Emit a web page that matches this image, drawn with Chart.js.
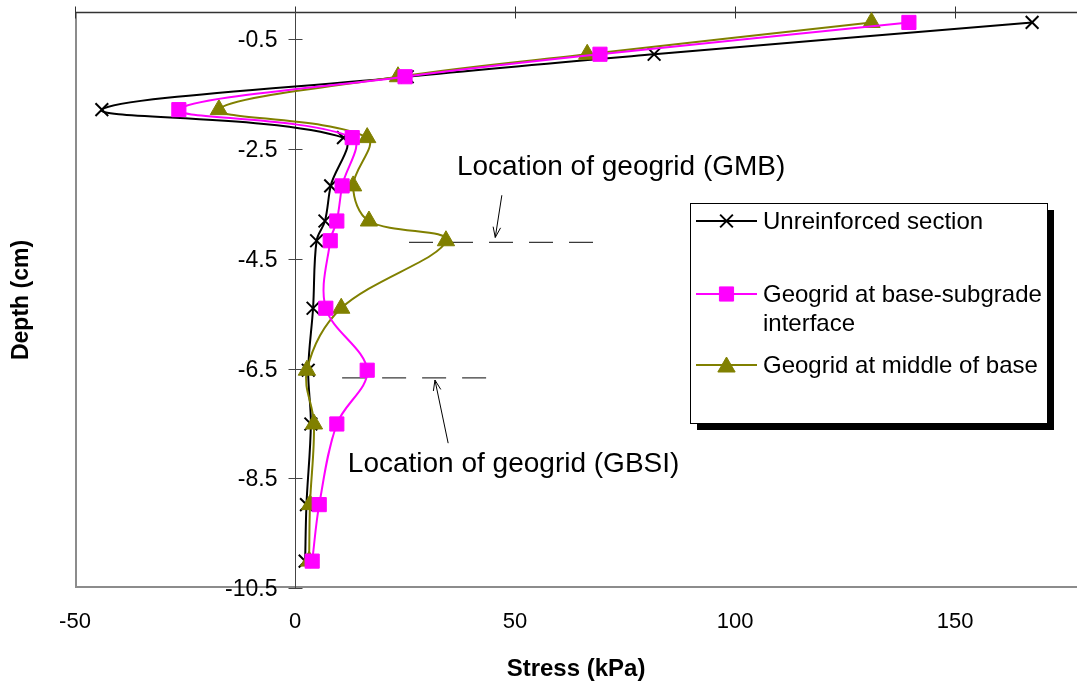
<!DOCTYPE html>
<html><head><meta charset="utf-8">
<script src="https://cdn.jsdelivr.net/npm/chart.js@4.4.0/dist/chart.umd.min.js"></script>
<style>html,body{margin:0;padding:0;background:#fff;overflow:hidden}canvas{display:block}</style>
</head><body>
<canvas id="c" width="1077" height="685"></canvas>
<script>
// ---- data ----
const depths = [-0.19, -0.77, -1.18, -1.78, -2.29, -3.17, -3.81, -4.17, -5.40, -6.53, -7.51, -8.98, -10.01];
const unreinforced = [167.5, 81.6, 25.5, -43.9, 11.0, 8.1, 6.8, 4.9, 4.1, 3.0, 3.6, 2.6, 2.3];
const geogridBSI   = [139.5, 69.3, 25.0, -26.4, 13.0, 10.7, 9.5, 8.0, 7.0, 16.4, 9.5, 5.5, 3.9];
const geogridMB    = [131.0, 66.4, 23.4, -17.3, 16.4, 13.2, 16.8, 34.3, 10.5, 2.7, 4.3, 3.4, 3.2];
const seriesNames = ["Unreinforced section", "Geogrid at base-subgrade interface", "Geogrid at middle of base"];
const xTicks = [-50, 0, 50, 100, 150];
const yTicks = [-10.5, -8.5, -6.5, -4.5, -2.5, -0.5];
const xTitle = "Stress (kPa)";
const yTitle = "Depth (cm)";
const geogridNotes = [
  {text: "Location of geogrid (GMB)", textX: 36.8, textY: -2.98, depth: -4.20, from: 25.9, to: 68.2, tail: [47.0, -3.34], head: [45.5, -4.11]},
  {text: "Location of geogrid (GBSI)", textX: 12.0, textY: -8.39, depth: -6.67, from: 10.7, to: 47.0, tail: [34.8, -7.86], head: [31.8, -6.71]}
];

const FONT = "'Liberation Sans', Arial, Helvetica, sans-serif";
const pts = vals => vals.map((v, i) => ({x: v, y: depths[i]}));

const axesPlugin = {
  id: 'axesPlugin',
  beforeDatasetsDraw(chart) {
    const {ctx, chartArea: a, scales: {x, y}} = chart;
    ctx.save();
    // plot area border (left & bottom)
    ctx.strokeStyle = '#8c8c8c'; ctx.lineWidth = 2;
    ctx.beginPath();
    ctx.moveTo(a.left + 1, a.top); ctx.lineTo(a.left + 1, a.bottom - 1); ctx.lineTo(a.right, a.bottom - 1);
    ctx.stroke();
    // horizontal axis line at depth 0
    const y0 = Math.round(y.getPixelForValue(0)) + 0.5;
    ctx.strokeStyle = '#333'; ctx.lineWidth = 1.5;
    ctx.beginPath(); ctx.moveTo(a.left, y0); ctx.lineTo(a.right, y0); ctx.stroke();
    ctx.lineWidth = 1;
    x.ticks.forEach(t => {
      const px = Math.round(x.getPixelForValue(t.value)) + 0.5;
      ctx.beginPath(); ctx.moveTo(px, y0 - 6); ctx.lineTo(px, y0 + 6); ctx.stroke();
    });
    // vertical axis line at stress 0
    const x0 = Math.round(x.getPixelForValue(0)) + 0.5;
    ctx.strokeStyle = '#444'; ctx.lineWidth = 1;
    ctx.beginPath(); ctx.moveTo(x0, a.top); ctx.lineTo(x0, a.bottom); ctx.stroke();
    ctx.fillStyle = '#000';
    ctx.font = '23px ' + FONT;
    ctx.textAlign = 'right'; ctx.textBaseline = 'middle';
    y.ticks.forEach(t => {
      const py = Math.round(y.getPixelForValue(t.value)) + 0.5;
      ctx.beginPath(); ctx.moveTo(x0 - 7, py); ctx.lineTo(x0 + 7, py); ctx.stroke();
      ctx.fillText(String(t.value), x0 - 18, py + 1);
    });
    // geogrid annotations
    geogridNotes.forEach(n => {
      const ly = y.getPixelForValue(n.depth);
      ctx.save();
      ctx.strokeStyle = '#3a3a3a'; ctx.lineWidth = 1.3;
      ctx.setLineDash([24, 16]);
      ctx.beginPath(); ctx.moveTo(x.getPixelForValue(n.from), ly); ctx.lineTo(x.getPixelForValue(n.to), ly); ctx.stroke();
      ctx.restore();
      const tx = x.getPixelForValue(n.tail[0]), ty = y.getPixelForValue(n.tail[1]);
      const hx = x.getPixelForValue(n.head[0]), hy = y.getPixelForValue(n.head[1]);
      ctx.strokeStyle = '#000'; ctx.lineWidth = 1;
      ctx.beginPath(); ctx.moveTo(tx, ty); ctx.lineTo(hx, hy); ctx.stroke();
      const ang = Math.atan2(hy - ty, hx - tx), L = 11, spread = 0.35;
      ctx.beginPath();
      ctx.moveTo(hx - L * Math.cos(ang - spread), hy - L * Math.sin(ang - spread));
      ctx.lineTo(hx, hy);
      ctx.lineTo(hx - L * Math.cos(ang + spread), hy - L * Math.sin(ang + spread));
      ctx.stroke();
      ctx.fillStyle = '#000';
      ctx.font = '28px ' + FONT;
      ctx.textAlign = 'left'; ctx.textBaseline = 'alphabetic';
      ctx.fillText(n.text, x.getPixelForValue(n.textX), y.getPixelForValue(n.textY));
    });
    ctx.restore();
  },
  afterDraw(chart) {
    const ctx = chart.ctx;
    ctx.save();
    const bx = 690, by = 203, bw = 357, bh = 220, sh = 7;
    ctx.fillStyle = '#000';
    ctx.fillRect(bx + sh, by + sh, bw, bh);
    ctx.fillStyle = '#fff';
    ctx.fillRect(bx, by, bw, bh);
    ctx.strokeStyle = '#000'; ctx.lineWidth = 1;
    ctx.strokeRect(bx + 0.5, by + 0.5, bw, bh);
    const rowY = [221, 294, 365];
    ctx.font = '24px ' + FONT;
    ctx.textAlign = 'left'; ctx.textBaseline = 'middle';
    chart.data.datasets.forEach((ds, i) => {
      const ry = rowY[i];
      ctx.strokeStyle = ds.borderColor; ctx.lineWidth = 2;
      ctx.beginPath(); ctx.moveTo(696, ry); ctx.lineTo(757, ry); ctx.stroke();
      ctx.fillStyle = ds.pointBackgroundColor; ctx.strokeStyle = ds.pointBorderColor;
      ctx.lineWidth = ds.pointBorderWidth;
      Chart.helpers.drawPoint(ctx, {pointStyle: ds.pointStyle, radius: ds.pointRadius, rotation: 0, borderWidth: ds.pointBorderWidth}, 726.5, ry + (ds.pointStyle === 'triangle' ? 2 : 0));
      // wrap label
      const words = ds.label.split(' ');
      const lines = []; let cur = '';
      words.forEach(w => {
        const test = cur ? cur + ' ' + w : w;
        if (ctx.measureText(test).width > 286 && cur) { lines.push(cur); cur = w; } else cur = test;
      });
      lines.push(cur);
      ctx.fillStyle = '#000';
      lines.forEach((ln, k) => ctx.fillText(ln, 763, ry + 1 + k * 29));
    });
    ctx.restore();
  }
};

new Chart(document.getElementById('c'), {
  type: 'scatter',
  data: {
    datasets: [
      {label: seriesNames[0], data: pts(unreinforced), showLine: true, borderColor: '#000000', borderWidth: 2,
       pointStyle: 'crossRot', pointRadius: 9, pointBorderWidth: 2, pointBorderColor: '#000000', pointBackgroundColor: '#000000', order: 3, clip: false},
      {label: seriesNames[1], data: pts(geogridBSI), showLine: true, borderColor: '#FF00FF', borderWidth: 2,
       pointStyle: 'rect', pointRadius: 10, pointBorderWidth: 1, pointBorderColor: '#FF00FF', pointBackgroundColor: '#FF00FF', order: 1, clip: false},
      {label: seriesNames[2], data: pts(geogridMB), showLine: true, borderColor: '#808000', borderWidth: 2,
       pointStyle: 'triangle', pointRadius: 10, pointBorderWidth: 1, pointBorderColor: '#808000', pointBackgroundColor: '#808000', order: 2, clip: false}
    ]
  },
  options: {
    responsive: false, animation: false, events: [],
    elements: {line: {tension: 0.35}},
    layout: {autoPadding: false, padding: {top: 12, right: 0, bottom: 0, left: 0}},
    plugins: {legend: {display: false}, tooltip: {enabled: false}},
    scales: {
      x: {
        type: 'linear', position: 'bottom', min: -50, max: 177.7,
        grid: {display: false, drawTicks: false}, border: {display: false},
        afterBuildTicks: s => { s.ticks = xTicks.map(v => ({value: v})); },
        afterFit: s => { s.height = 97; },
        ticks: {font: {family: FONT, size: 22}, color: '#000', padding: 21, maxRotation: 0, autoSkip: false},
        title: {display: true, text: xTitle, font: {family: FONT, size: 24, weight: 'bold'}, color: '#000', padding: {top: 0, bottom: 1}}
      },
      y: {
        type: 'linear', position: 'left', min: -10.5, max: 0,
        grid: {display: false, drawTicks: false}, border: {display: false},
        afterBuildTicks: s => { s.ticks = yTicks.map(v => ({value: v})); },
        afterFit: s => { s.width = 75; },
        ticks: {display: false},
        title: {display: true, text: yTitle, font: {family: FONT, size: 23, weight: 'bold'}, color: '#000', padding: {top: 8, bottom: 0}}
      }
    }
  },
  plugins: [axesPlugin]
});
</script>
</body></html>
